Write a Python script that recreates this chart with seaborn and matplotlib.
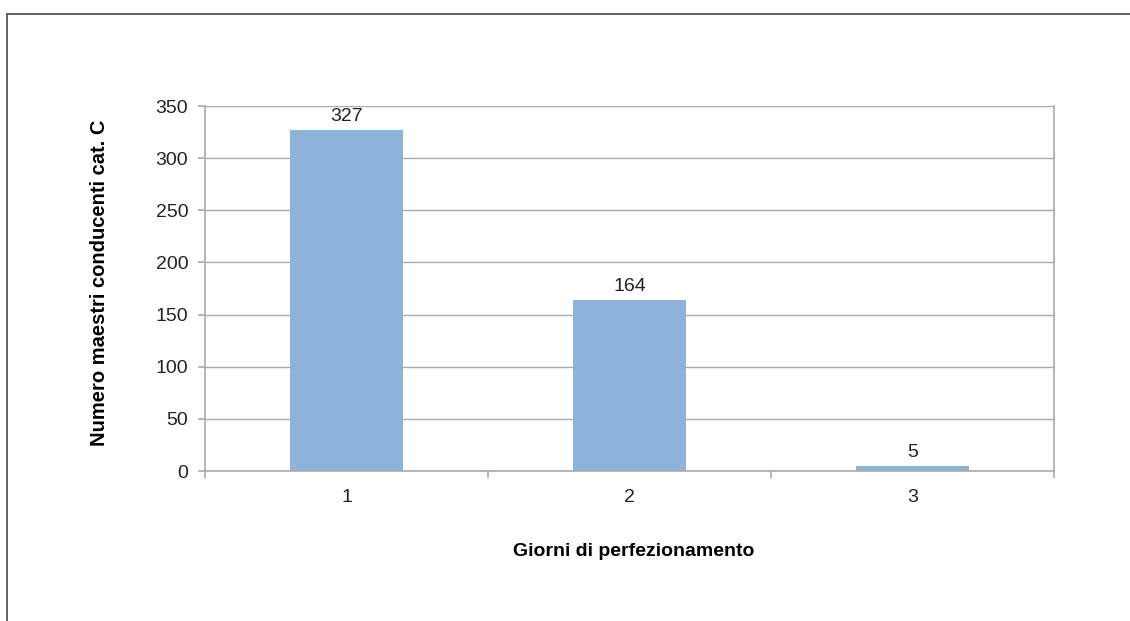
import matplotlib
matplotlib.use("Agg")
import matplotlib.pyplot as plt
import seaborn as sns
from matplotlib.lines import Line2D

days = ["1", "2", "3"]
counts = [327, 164, 5]
y_ticks = [0, 50, 100, 150, 200, 250, 300, 350]

BAR_COLOR = "#8DB3D8"
GRID_COLOR = "#AAAAAA"

sns.set_theme(style="white")
plt.rcParams["font.family"] = ["Liberation Sans", "DejaVu Sans"]

fig = plt.figure(figsize=(11.3, 6.21), dpi=100)
ax = fig.add_axes([0.1814, 0.2415, 0.9327 - 0.1814, 0.8293 - 0.2415])

sns.barplot(x=days, y=counts, color=BAR_COLOR, width=0.4, saturation=1, linewidth=0, ax=ax)

ax.set_ylim(0, 350)
ax.set_xlim(-0.5, 2.5)
ax.set_yticks(y_ticks)
ax.yaxis.grid(True, color=GRID_COLOR, linewidth=1)
ax.set_axisbelow(True)

for side in ["left", "bottom", "right"]:
    ax.spines[side].set_visible(True)
    ax.spines[side].set_color(GRID_COLOR)
    ax.spines[side].set_linewidth(1.2)
ax.spines["top"].set_visible(False)

# category boundary ticks on x, outward ticks on y
ax.set_xticks([-0.5, 0.5, 1.5, 2.5], minor=True)
ax.tick_params(axis="x", which="minor", length=5, color=GRID_COLOR, width=1.2, direction="out", bottom=True)
ax.tick_params(axis="x", which="major", length=0, labelsize=14, pad=13, labelcolor="#222222")
ax.tick_params(axis="y", length=5, color=GRID_COLOR, width=1.2, direction="out", left=True,
               labelsize=14, pad=7, labelcolor="#222222")

for i, v in enumerate(counts):
    ax.text(i, v + 5, str(v), ha="center", va="bottom", fontsize=14, color="#222222")

ax.set_xlabel("")
ax.set_ylabel("")
fig.text(634 / 1130, 1 - 551 / 621, "Giorni di perfezionamento", ha="center", va="center",
         fontsize=14, fontweight="bold", color="black")
fig.text(100 / 1130, 1 - 283 / 621, "Numero maestri conducenti cat. C", ha="center", va="center",
         rotation=90, fontsize=14.5, fontweight="bold", color="black")

# outer chart frame (left and top edges visible)
fig.add_artist(Line2D([7 / 1130, 7 / 1130], [0, 1 - 14 / 621], transform=fig.transFigure,
                      color="#555555", linewidth=1.3))
fig.add_artist(Line2D([7 / 1130, 1], [1 - 14 / 621, 1 - 14 / 621], transform=fig.transFigure,
                      color="#555555", linewidth=1.3))

fig.savefig("out.png", dpi=100, facecolor="white")
